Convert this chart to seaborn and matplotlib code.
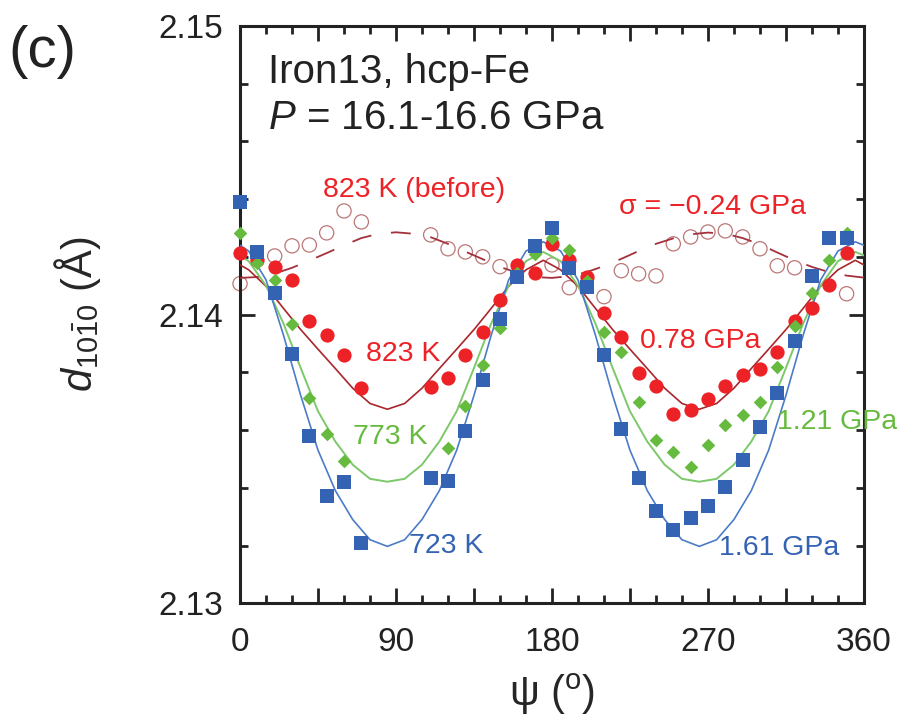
import numpy as np
import pandas as pd
import seaborn as sns
import matplotlib.pyplot as plt
from matplotlib.ticker import MultipleLocator, FixedLocator, FuncFormatter

nan = np.nan

# measured d-spacings (Å) at psi = 0, 10, ..., 350 deg
psi = list(range(0, 360, 10))
d_723 = [2.14390, 2.14217, 2.14076, 2.13862, 2.13579, 2.13372, 2.13421, 2.13207, nan, nan,
         nan, 2.13434, 2.13424, 2.13597, 2.13772, 2.13986, 2.14131, 2.14238, 2.14300, 2.14162,
         2.14097, 2.13859, 2.13603, 2.13434, 2.13321, 2.13255, 2.13297, 2.13338, 2.13403, 2.13497,
         2.13610, 2.13728, 2.13907, 2.14134, 2.14266, 2.14266]
d_773 = [2.14283, 2.14179, 2.14121, 2.13966, 2.13710, 2.13586, 2.13493, nan, nan, nan,
         nan, nan, 2.13538, 2.13683, 2.13824, 2.13955, 2.14145, 2.14210, 2.14266, 2.14224,
         2.14115, 2.13941, 2.13872, 2.13697, 2.13566, 2.13524, 2.13472, 2.13548, 2.13617, 2.13652,
         2.13697, 2.13817, 2.13962, 2.14076, 2.14190, 2.14283]
d_823 = [2.14214, 2.14190, 2.14166, 2.14121, 2.13979, 2.13928, 2.13859, 2.13745, nan, nan,
         nan, 2.13748, 2.13779, 2.13859, 2.13941, 2.14052, 2.14172, 2.14145, 2.14245, 2.14190,
         2.14131, 2.14007, 2.13924, 2.13797, 2.13752, 2.13655, 2.13669, 2.13707, 2.13752, 2.13790,
         2.13810, 2.13869, 2.13976, 2.14024, 2.14103, 2.14214]
d_823_before = [2.14107, nan, 2.14203, 2.14238, 2.14241, 2.14283, 2.14359, 2.14321, nan, nan,
                nan, 2.14276, 2.14228, 2.14217, 2.14200, 2.14166, nan, nan, 2.14172, 2.14093,
                nan, 2.14062, 2.14152, 2.14141, 2.14134, 2.14245, 2.14269, 2.14286, 2.14290, 2.14269,
                2.14228, 2.14169, 2.14162, nan, nan, 2.14072]

# fitted curves
psi_fit = [0, 5, 15, 25, 35, 45, 55, 65, 75, 85, 95, 105, 115, 125, 135, 145, 155, 165, 175,
           185, 195, 205, 215, 225, 235, 245, 255, 265, 275, 285, 295, 305, 315, 325, 335, 345, 355, 360]
fit_723 = [2.14240, 2.14220, 2.14120, 2.13930, 2.13720, 2.13530, 2.13390, 2.13290, 2.13220, 2.13197,
           2.13220, 2.13290, 2.13390, 2.13530, 2.13720, 2.13930, 2.14120, 2.14220, 2.14252,
           2.14220, 2.14120, 2.13930, 2.13720, 2.13530, 2.13390, 2.13290, 2.13220, 2.13197,
           2.13220, 2.13290, 2.13390, 2.13530, 2.13720, 2.13930, 2.14120, 2.14220, 2.14252, 2.14240]
fit_773 = [2.14205, 2.14185, 2.14100, 2.13970, 2.13815, 2.13665, 2.13560, 2.13480, 2.13431, 2.13421,
           2.13431, 2.13480, 2.13560, 2.13665, 2.13815, 2.13970, 2.14100, 2.14185, 2.14217,
           2.14185, 2.14100, 2.13970, 2.13815, 2.13665, 2.13560, 2.13480, 2.13431, 2.13421,
           2.13431, 2.13480, 2.13560, 2.13665, 2.13815, 2.13970, 2.14100, 2.14185, 2.14217, 2.14205]
fit_823 = [2.14172, 2.14155, 2.14098, 2.14022, 2.13948, 2.13880, 2.13813, 2.13745, 2.13692, 2.13672,
           2.13692, 2.13745, 2.13813, 2.13880, 2.13948, 2.14022, 2.14098, 2.14155, 2.14188,
           2.14155, 2.14098, 2.14022, 2.13948, 2.13880, 2.13813, 2.13745, 2.13692, 2.13672,
           2.13692, 2.13745, 2.13813, 2.13880, 2.13948, 2.14022, 2.14098, 2.14155, 2.14188, 2.14172]
psi_fit_before = list(range(0, 361, 10))
fit_823_before = [2.14127, 2.14130, 2.14142, 2.14162, 2.14187, 2.14213, 2.14240, 2.14265, 2.14280,
                  2.14285, 2.14280, 2.14268, 2.14245, 2.14218, 2.14192, 2.14165, 2.14145, 2.14130,
                  2.14127, 2.14133, 2.14147, 2.14168, 2.14193, 2.14220, 2.14245, 2.14264, 2.14278,
                  2.14284, 2.14280, 2.14265, 2.14243, 2.14215, 2.14188, 2.14165, 2.14147, 2.14135,
                  2.14128]

RED = '#ec2227'
GREEN = '#66bb3f'
BLUE = '#3563b4'

sns.set_style("ticks")
plt.rcParams['font.family'] = ['Liberation Sans', 'DejaVu Sans']
plt.rcParams['mathtext.fontset'] = 'custom'
plt.rcParams['mathtext.rm'] = 'Liberation Sans'
plt.rcParams['mathtext.it'] = 'Liberation Sans:italic'

fig = plt.figure(figsize=(8.99, 7.19), dpi=100)
ax = fig.add_axes([0.267, 0.161, 0.694, 0.803])

# open circles + dashed fit (before)
pts_b = pd.DataFrame({'psi': psi, 'd': d_823_before}).dropna()
sns.scatterplot(data=pts_b, x='psi', y='d', marker='o', s=105, facecolor='none',
                edgecolor='#bb7777', linewidth=0.9, ax=ax, zorder=2, clip_on=False)
sns.lineplot(x=psi_fit_before, y=fit_823_before, color='#a3303a', lw=1.3,
             dashes=(11, 11), ax=ax, zorder=3)

# fitted curves
sns.lineplot(x=psi_fit, y=fit_823, color='#a8262c', lw=1.2, ax=ax, zorder=3)
sns.lineplot(x=psi_fit, y=fit_773, color='#7cc86a', lw=1.4, ax=ax, zorder=3)
sns.lineplot(x=psi_fit, y=fit_723, color='#4a7cc8', lw=1.2, ax=ax, zorder=3)

# measured points
pts = pd.DataFrame({'psi': psi, 'd723': d_723, 'd773': d_773, 'd823': d_823})
sns.scatterplot(data=pts, x='psi', y='d823', marker='o', s=105, color=RED,
                edgecolor=RED, linewidth=0, ax=ax, zorder=4, clip_on=False)
sns.scatterplot(data=pts, x='psi', y='d773', marker='D', s=48, color=GREEN,
                edgecolor=GREEN, linewidth=0, ax=ax, zorder=5, clip_on=False)
sns.scatterplot(data=pts, x='psi', y='d723', marker='s', s=115, color=BLUE,
                edgecolor=BLUE, linewidth=0, ax=ax, zorder=6, clip_on=False)

ax.set_xlim(0, 360)
ax.set_ylim(2.13, 2.15)

ax.xaxis.set_major_locator(FixedLocator(list(range(0, 361, 45))))
ax.xaxis.set_major_formatter(FuncFormatter(lambda v, p: f'{int(round(v))}' if round(v) % 90 == 0 else ''))
ax.xaxis.set_minor_locator(MultipleLocator(15))
ax.yaxis.set_major_locator(MultipleLocator(0.01))
ax.yaxis.set_major_formatter(FuncFormatter(lambda v, p: f'{v:.2f}'))
ax.yaxis.set_minor_locator(MultipleLocator(0.002))
ax.tick_params(which='both', direction='in', top=True, right=True, width=2, colors='#222222')
ax.tick_params(which='major', length=11, labelsize=24, pad=12)
ax.tick_params(axis='x', which='major', pad=17)
ax.tick_params(which='minor', length=6)
for sp in ax.spines.values():
    sp.set_linewidth(2.2)
    sp.set_color('#222222')

ax.set_xlabel(r'$\mathrm{\psi}$ ($^{\rm o}$)', fontsize=30, labelpad=10)
ax.set_ylabel(r'$d_{10\bar{1}0}$ (Å)', fontsize=30, labelpad=40)

ax.text(0.045, 0.920, 'Iron13, hcp-Fe', transform=ax.transAxes, fontsize=29,
        ha='left', va='center', color='#222222')
ax.text(0.045, 0.841, r'$P$ = 16.1-16.6 GPa', transform=ax.transAxes, fontsize=29,
        ha='left', va='center', color='#222222')
fig.text(0.009, 0.928, '(c)', fontsize=42, ha='left', va='center', color='#222222')

lab = dict(fontsize=20.5, ha='center', va='center', clip_on=False)
ax.text(100.4, 2.14431, '823 K (before)', color=RED, **lab)
ax.text(272.9, 2.14372, 'σ = −0.24 GPa', color=RED, **lab)
ax.text(94.1, 2.13862, '823 K', color=RED, **lab)
ax.text(265.4, 2.13907, '0.78 GPa', color=RED, **lab)
ax.text(86.6, 2.13576, '773 K', color=GREEN, **lab)
ax.text(344.5, 2.13628, '1.21 GPa', color=GREEN, **lab)
ax.text(118.9, 2.13197, '723 K', color=BLUE, **lab)
ax.text(311.0, 2.13193, '1.61 GPa', color=BLUE, **lab)

fig.savefig('out.png', dpi=100)
